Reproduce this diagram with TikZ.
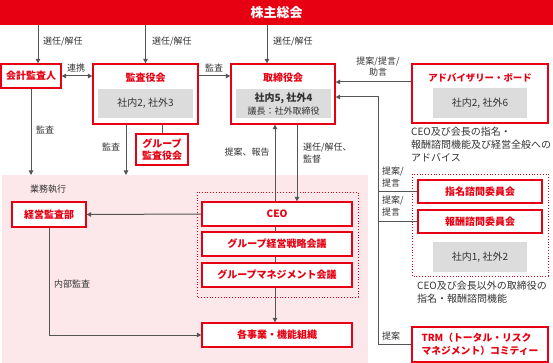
\documentclass[tikz,border=0pt]{standalone}
\usepackage{fontspec}
\setmainfont{Noto Sans CJK JP}
\usetikzlibrary{arrows.meta}
\definecolor{jred}{HTML}{E60012}
\definecolor{jpink}{HTML}{FCE8EB}
\definecolor{jgray}{HTML}{DCDCDC}
\definecolor{jtext}{HTML}{333333}
\definecolor{jarrow}{HTML}{555555}
\begin{document}
\begin{tikzpicture}[x=1pt,y=-1pt,
 redbox/.style={draw=jred,line width=1.3pt,fill=white,text=jred,font=\bfseries\fontsize{10}{12.5}\selectfont,align=center,inner sep=0pt},
 ttl/.style={text=jred,font=\bfseries\fontsize{10}{12}\selectfont,inner sep=0pt},
 graybox/.style={fill=jgray,text=jtext,font=\fontsize{10}{12.5}\selectfont,align=center,inner sep=0pt},
 dotbox/.style={draw=jred,line width=0.8pt,dotted},
 lbl/.style={text=jtext,font=\fontsize{9}{11.5}\selectfont,inner sep=0pt,align=left},
 desc/.style={text=jtext,font=\fontsize{10}{12.7}\selectfont,inner sep=0pt,align=left},
 arr/.style={draw=jarrow,line width=1pt,-{Triangle[length=4.5pt,width=4.5pt]}},
 arrtwo/.style={draw=jarrow,line width=1pt,{Triangle[length=4.5pt,width=4.5pt]}-{Triangle[length=4.5pt,width=4.5pt]}},
 ln/.style={draw=jarrow,line width=1pt},
]
\useasboundingbox (0,0) rectangle (553,363);
\fill[white] (0,0) rectangle (553,363);

% backgrounds
\node[fill=jpink,minimum width=366pt,minimum height=188pt,anchor=north west,inner sep=0pt] (pink) at (2,175) {};
\node[fill=jred,minimum width=553pt,minimum height=25pt,anchor=north west,inner sep=0pt,text=white,font=\bfseries\fontsize{13}{15}\selectfont] (banner) at (0,0) {株主総会};

% dotted groups
\draw[dotbox] (197,192) rectangle (358,297);
\draw[dotbox] (412,174) rectangle (548,276);

% helper coordinates
\coordinate (xk) at (38,0);
\coordinate (xt) at (267,0);
\coordinate (xk2) at (126,0);
\coordinate (xA) at (275,0);
\coordinate (xB) at (297,0);
\coordinate (xV) at (378,97);
\coordinate (yAdv) at (0,82);

% boxes
\node[redbox,minimum width=60pt,minimum height=24pt] (kaikei) at (31,76) {会計監査人};

\node[redbox,minimum width=105pt,minimum height=60pt] (kansa) at (145.5,94) {};
\node[ttl] (kansaT) at (145.5,77.5) {監査役会};
\node[graybox,minimum width=95pt,minimum height=29pt] (kansaG) at (145.5,103.5) {社内2, 社外3};

\node[redbox,minimum width=104pt,minimum height=60pt] (torishimari) at (283,94) {};
\node[ttl] (toriT) at (283,77.5) {取締役会};
\node[graybox,minimum width=95pt,minimum height=29pt] (toriG) at (283.5,103.5) {};
\node[text=jtext,font=\bfseries\fontsize{10}{12}\selectfont,inner sep=0pt] (toriG1) at (283.5,98) {社内5, 社外4};
\node[text=jtext,font=\fontsize{9}{11}\selectfont,inner sep=0pt] (toriG2) at (283.5,111) {議長：社外取締役};

\node[redbox,minimum width=136pt,minimum height=59pt] (advisory) at (480,93.5) {};
\node[ttl,font=\bfseries\fontsize{9.4}{12}\selectfont] (advT) at (480,77.5) {アドバイザリー・ボード};
\node[graybox,minimum width=94pt,minimum height=30pt] (advG) at (480,103) {社内2, 社外6};

\node[redbox,minimum width=52pt,minimum height=31pt] (groupk) at (162,149.5) {グループ\\監査役会};

\node[redbox,minimum width=74pt,minimum height=25pt] (keikan) at (49,214.5) {経営監査部};

\node[redbox,minimum width=150pt,minimum height=24pt] (CEO) at (277,214) {CEO};
\node[redbox,minimum width=150pt,minimum height=24pt] (GSM) at (277,244) {グループ経営戦略会議};
\node[redbox,minimum width=150pt,minimum height=24pt] (GMM) at (277,275) {グループマネジメント会議};
\node[redbox,minimum width=150pt,minimum height=24pt] (jigyo) at (277,335) {各事業・機能組織};

\node[redbox,minimum width=124pt,minimum height=23pt] (shimei) at (480,191.5) {指名諮問委員会};
\node[redbox,minimum width=124pt,minimum height=23pt] (hoshu) at (480,221.5) {報酬諮問委員会};
\node[graybox,minimum width=94pt,minimum height=30pt] (comG) at (480,257) {社内1, 社外2};

\node[redbox,minimum width=136pt,minimum height=35pt,align=left,font=\bfseries\fontsize{9.8}{13}\selectfont] (TRM) at (480,344.5) {TRM（トータル・リスク\\マネジメント）コミティー};

% connectors
\draw[arr] (xk |- banner.south) -- (xk |- kaikei.north);
\draw[arr] (kansa.north |- banner.south) -- (kansa.north);
\draw[arr] (xt |- banner.south) -- (xt |- torishimari.north);
\node[lbl,anchor=west] (l1) at (43,42) {選任/解任};
\node[lbl,anchor=west] (l2) at (152,42) {選任/解任};
\node[lbl,anchor=west] (l3) at (273,42) {選任/解任};

\draw[arrtwo] (kaikei.east) -- (kansa.west |- kaikei.east);
\node[lbl] (lrenkei) at (76,68) {連携};
\draw[arr] (kansa.east |- kaikei.east) -- (torishimari.west |- kaikei.east);
\node[lbl] (lkansa1) at (214,68) {監査};

\draw[arr] (advisory.west |- yAdv) -- (torishimari.east |- yAdv);
\node[lbl,align=center] (ladv) at (378,66.5) {提案/提言/\\助言};

\draw[arr] (TRM.west) -| (xV) -- (torishimari.east |- xV);
\draw[ln] (shimei.west) -- (shimei.west -| xV);
\draw[ln] (hoshu.west) -- (hoshu.west -| xV);
\node[lbl,anchor=west] (lt1) at (382,177) {提案/\\提言};
\node[lbl,anchor=west] (lt2) at (382,206) {提案/\\提言};
\node[lbl,anchor=west] (lt3) at (382,336) {提案};

\draw[arr] (kaikei.south) -- (kaikei.south |- pink.north);
\node[lbl] (lkansa2) at (45,130) {監査};
\draw[arr] (xk2 |- kansa.south) -- (xk2 |- pink.north);
\node[lbl] (lkansa3) at (111,147) {監査};
\draw[ln] (groupk.north |- kansa.south) -- (groupk.north);

\draw[arr] (xA |- CEO.north) -- (xA |- torishimari.south);
\node[lbl] (lteian) at (247,152) {提案、報告};
\draw[arr] (xB |- torishimari.south) -- (xB |- CEO.north);
\node[lbl,anchor=west] (lsenin) at (303,153) {選任/解任、\\監督};

\draw[arr] (CEO.west) -- (keikan.east);
\draw[ln] (xA |- CEO.south) -- (xA |- GSM.north);
\draw[ln] (xA |- GSM.south) -- (xA |- GMM.north);
\draw[arr] (xA |- GMM.south) -- (xA |- jigyo.north);
\draw[arr] (keikan.south) |- (jigyo.west);
\node[lbl] (lnaibu) at (72,284) {内部監査};

\node[lbl] (lgyomu) at (48,189) {業務執行};

\node[desc,anchor=north west] (dadv) at (411,127) {CEO及び会長の指名・\\報酬諮問機能及び経営全般への\\アドバイス};
\node[desc,anchor=north west] (dcom) at (417,281) {CEO及び会長以外の取締役の\\指名・報酬諮問機能};
\end{tikzpicture}
\end{document}
